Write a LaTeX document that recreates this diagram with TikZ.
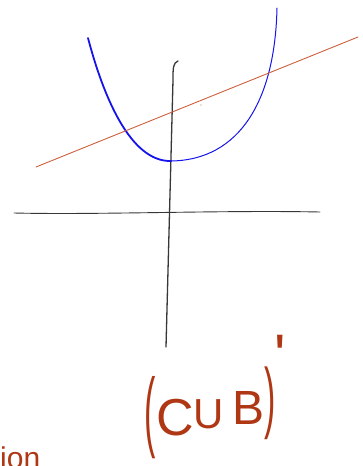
\documentclass[tikz,border=0pt]{standalone}
\usepackage{fontspec}
\setmainfont{Liberation Sans}
\usepackage{graphicx}
\usetikzlibrary{positioning}
\definecolor{penblue}{RGB}{20,20,235}
\definecolor{penred}{RGB}{205,95,60}
\definecolor{penbrown}{RGB}{175,55,20}
\definecolor{pengray}{RGB}{55,55,55}

\begin{document}
\begin{tikzpicture}[x=1pt, y=-1pt,
  axis/.style={pengray, line width=1.3pt, line cap=round},
  curve/.style={penblue, line cap=round},
  secant/.style={penred, line width=0.9pt, line cap=round},
  hand/.style={penbrown, inner sep=0pt, font=\fontsize{48}{48}\selectfont},
  paren/.style={penbrown, inner sep=0pt, font=\fontsize{34}{34}\selectfont},
]
\clip (0,0) rectangle (363,466);

% axes
\coordinate (vtop) at (178,61);
\coordinate (vbot) at (166,347);
\coordinate (hleft) at (14,213);
\coordinate (hright) at (320,212);
\draw[axis] (vtop) .. controls (173,63) and (173,68) .. (173,80) -- (vbot);
\draw[axis, line width=0.9pt] (hleft) .. controls (100,215) and (220,210) .. (hright);

% parabola
\coordinate (pleft) at (88,38);
\coordinate (pvert) at (171,161);
\coordinate (pright) at (277,8);
\draw[curve, line width=1.8pt] (pleft) .. controls (103,95) and (130,162) .. (pvert);
\draw[curve, line width=1pt] (pvert) .. controls (240,160) and (275,100) .. (pright);

% secant line
\coordinate (sleft) at (36,167);
\coordinate (sright) at (358,37);
\draw[secant] (sleft) -- (sright);
\fill[penred] (201,105) circle (0.7);

% handwritten label
\node[paren] (lp) at (150,418) {\scalebox{1}[2.6]{(}};
\node[hand, font=\fontsize{52}{52}\selectfont] (c) at (175,418) {C};
\node[hand, font=\fontsize{42}{42}\selectfont] (u) at (209,414) {U};
\node[hand] (b) at (249,408) {B};
\node[paren] (rp) at (270,403) {\scalebox{1}[2.3]{)}};
\node[hand, font=\fontsize{60}{60}\selectfont] (prime) at (280,356) {\textquotesingle};
\node[hand, font=\fontsize{30}{30}\selectfont, anchor=north west] (ion) at (0,447) {ion};
\end{tikzpicture}
\end{document}
